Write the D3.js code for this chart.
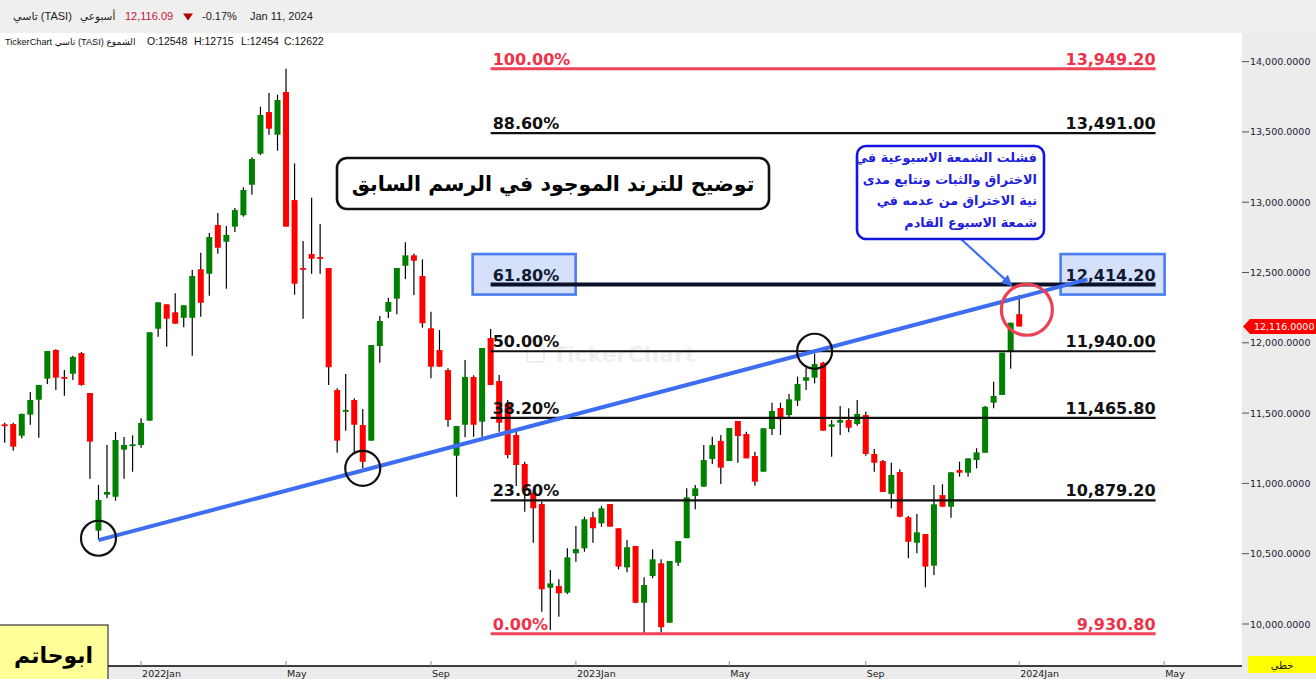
<!DOCTYPE html>
<html><head><meta charset="utf-8">
<script src="https://cdn.jsdelivr.net/npm/d3@7"></script>
<style>html,body{margin:0;padding:0;background:#fff;overflow:hidden}svg{display:block}</style>
</head><body><svg id="c" width="1316" height="679"></svg>
<script>
// ---------- DATA ----------
const dates = ["2021-09-12","2021-09-19","2021-09-26","2021-10-03","2021-10-10","2021-10-17","2021-10-24","2021-10-31","2021-11-07","2021-11-14",
"2021-11-21","2021-11-28","2021-12-05","2021-12-12","2021-12-19","2021-12-26","2022-01-02","2022-01-09","2022-01-16","2022-01-23",
"2022-01-30","2022-02-06","2022-02-13","2022-02-20","2022-02-27","2022-03-06","2022-03-13","2022-03-20","2022-03-27","2022-04-03",
"2022-04-10","2022-04-17","2022-04-24","2022-05-01","2022-05-08","2022-05-15","2022-05-22","2022-05-29","2022-06-05","2022-06-12",
"2022-06-19","2022-06-26","2022-07-03","2022-07-17","2022-07-24","2022-07-31","2022-08-07","2022-08-14","2022-08-21","2022-08-28",
"2022-09-04","2022-09-11","2022-09-18","2022-09-25","2022-10-02","2022-10-09","2022-10-16","2022-10-23","2022-10-30","2022-11-06",
"2022-11-13","2022-11-20","2022-11-27","2022-12-04","2022-12-11","2022-12-18","2022-12-25","2023-01-01","2023-01-08","2023-01-15",
"2023-01-22","2023-01-29","2023-02-05","2023-02-12","2023-02-19","2023-02-26","2023-03-05","2023-03-12","2023-03-19","2023-03-26",
"2023-04-02","2023-04-09","2023-04-16","2023-04-23","2023-04-30","2023-05-07","2023-05-14","2023-05-21","2023-05-28","2023-06-04",
"2023-06-11","2023-06-18","2023-07-02","2023-07-09","2023-07-16","2023-07-23","2023-07-30","2023-08-06","2023-08-13","2023-08-20",
"2023-08-27","2023-09-03","2023-09-10","2023-09-17","2023-09-24","2023-10-01","2023-10-08","2023-10-15","2023-10-22","2023-10-29",
"2023-11-05","2023-11-12","2023-11-19","2023-11-26","2023-12-03","2023-12-10","2023-12-17","2023-12-24","2023-12-31","2024-01-07"];

const openP = [11420,11422,11339,11489,11595,11745,11949,11757,11780,11927,
11643,10664,10920,10905,11240,11266,11273,11446,12100,12274,
12217,12178,12178,12523,12491,12838,12719,12826,12907,13124,
13345,13641,13480,13784,13015,12532,12631,12610,12532,11664,
11510,11593,11415,11304,11977,12221,12314,12548,12622,12475,
12103,11949,11806,11197,11417,11757,11439,12034,11728,11565,
11344,11138,10934,10853,10258,10270,10223,10503,10538,10759,
10716,10853,10681,10403,10555,10151,10341,10432,10009,10436,
10610,10910,10977,11174,11302,11159,11444,11351,11195,11083,
11387,11536,11486,11588,11730,11752,11858,11403,11432,11451,
11422,11486,11209,11159,10925,11081,10759,10578,10640,10415,
10917,10834,11095,11076,11166,11218,11574,11629,11937,12203];

const highP = [11432,11432,11498,11650,11700,11942,11955,11806,11908,11935,
11643,10989,11273,11366,11330,11342,11463,12075,12288,12274,
12352,12267,12518,12641,12781,12923,12831,12959,13106,13319,
13679,13777,13764,13949,13276,12724,13032,12845,12532,11676,
11778,11605,11529,11984,12190,12321,12532,12715,12636,12594,
12221,12091,11819,11408,11878,11769,11963,12098,11771,11593,
11380,11154,10953,10870,10384,10318,10538,10697,10763,10799,
10839,10853,10681,10597,10555,10332,10531,10460,10448,10590,
10965,10989,11273,11332,11344,11394,11444,11368,11225,11392,
11574,11574,11636,11759,11823,11925,11866,11451,11550,11534,
11593,11510,11245,11166,11147,11100,10768,10782,10640,10989,
10994,11079,11154,11178,11250,11550,11723,11930,12143,12340];

const lowP = [11289,11232,11321,11417,11325,11707,11664,11624,11735,11695,
11033,10597,10894,10877,11033,11083,11254,11446,12043,11972,
12136,12110,11908,12186,12335,12634,12385,12788,12897,13053,
13336,13480,13366,12826,12342,12171,12491,12491,11700,11218,
11375,11218,11107,11304,11858,12176,12203,12454,12340,12107,
11747,11830,11403,10905,11328,11332,11332,11700,11368,11178,
10981,10799,10578,10087,9957,10052,10213,10443,10514,10578,
10692,10692,10389,10368,10147,9931,10325,9938,10009,10413,
10610,10816,10977,11138,10996,11159,11147,11178,10984,11083,
11344,11344,11470,11550,11664,11712,11375,11190,11344,11363,
11410,11197,11083,10939,10823,10759,10467,10503,10261,10349,
10834,10756,11048,11048,11107,11218,11534,11629,11816,12116];

const closeP = [11410,11261,11494,11593,11700,11942,11752,11745,11899,11700,
11297,10882,10939,11309,11273,11278,11430,12075,12288,12171,
12136,12267,12475,12285,12752,12676,12767,12944,13087,13307,
13620,13523,13727,12826,12420,12520,12598,12598,11826,11304,
11522,11417,11154,11984,12155,12290,12532,12622,12584,12139,
11830,11830,11451,11408,11757,11417,11963,11700,11432,11202,
11131,10948,10823,10247,10289,10218,10474,10533,10745,10681,
10823,10692,10408,10546,10151,10277,10460,9977,10448,10590,
10901,10965,11166,11273,11112,11394,11337,11178,11012,11392,
11515,11456,11598,11707,11755,11849,11375,11420,11451,11396,
11494,11209,11147,10939,11060,10763,10585,10652,10408,10851,
10834,11079,11076,11178,11221,11545,11622,11930,12143,12116.09];

const xTickIndex = [16,33,50,67,85,101,119,136];
const xTickLabels = ["2022Jan","May","Sep","2023Jan","May","Sep","2024Jan","May"];
const yTicks = [10000,10500,11000,11500,12000,12500,13000,13500,14000];

const fibLabels = ["100.00%","88.60%","61.80%","50.00%","38.20%","23.60%","0.00%"];
const fibValues = [13949.2,13491.0,12414.2,11940.0,11465.8,10879.2,9930.8];
const fibFromIndex = 57, fibToIndex = 135;

const trendIndex = [11,127];
const trendValue = [10597,12451];
const circleIndex = [11,42,95];
const circleValue = [10610,11107,11940];
const alertIndex = 119.9, alertValue = 12235;
const arrowFrom = [112.1, 12742], arrowTo = [118.1, 12408];

const headerName = "تاسي (TASI)";
const headerPeriod = "أسبوعي";
const headerLast = "12,116.09";
const headerChange = "-0.17%";
const headerDate = "Jan 11, 2024";
const infoTitle = "TickerChart تاسي (TASI) الشموع";
const infoOHLC = ["O:12548","H:12715","L:12454","C:12622"];
const titleText = "توضيح للترند الموجود في الرسم السابق";
const noteLines = ["فشلت الشمعة الاسبوعية في","الاختراق والثبات ونتابع مدى","نية الاختراق من عدمه في","شمعة الاسبوع القادم"];
const authorText = "ابوحاتم";
const scaleTypeText = "خطي";

// ---------- DRAW ----------
const svg = d3.select("#c");
const W = 1316, H = 679;
const plotL = 0, plotR = 1242, plotT = 33, plotB = 666;
const x = d3.scaleLinear().domain([0,119]).range([4.7,1019.2]);
const y = d3.scaleLinear().domain([10000,14000]).range([624,61.6]);
const fmtY = d3.format(",.4f");
const fmtF = d3.format(",.2f");
const arFont = "'DejaVu Sans', sans-serif";
const mixFont = "'Liberation Sans', 'DejaVu Sans', Arial, sans-serif";

svg.append("rect").attr("width",W).attr("height",H).attr("fill","#fff");
svg.append("rect").attr("x",0).attr("y",0).attr("width",W).attr("height",plotT).attr("fill","#efefef");
svg.append("rect").attr("x",plotR).attr("y",plotT).attr("width",W-plotR).attr("height",H-plotT).attr("fill","#ececec");
svg.append("rect").attr("x",0).attr("y",plotB).attr("width",plotR).attr("height",H-plotB).attr("fill","#ececec");

const hdr = svg.append("g").attr("font-family",mixFont).attr("font-size",11).attr("fill","#222");
hdr.append("text").attr("x",13).attr("y",20).text(headerName);
hdr.append("text").attr("x",80).attr("y",20).attr("font-family",arFont).attr("font-size",10.5).text(headerPeriod);
hdr.append("text").attr("x",125).attr("y",20).attr("fill","#c8143c").text(headerLast);
hdr.append("path").attr("d","M183,13.5 L193,13.5 L188,20.5 Z").attr("fill","#b00000");
hdr.append("text").attr("x",202).attr("y",20).text(headerChange);
hdr.append("text").attr("x",250).attr("y",20).text(headerDate);

const info = svg.append("g").attr("font-family",mixFont).attr("font-size",10.5).attr("fill","#111");
info.append("text").attr("x",5).attr("y",45).attr("font-size",9.2).text(infoTitle);
const ohlcX = [147,194,241,284];
infoOHLC.forEach((t,i)=>info.append("text").attr("x",ohlcX[i]).attr("y",45).text(t));

svg.append("clipPath").attr("id","pc").append("rect").attr("x",plotL).attr("y",plotT).attr("width",plotR-plotL).attr("height",plotB-plotT);
const plot = svg.append("g").attr("clip-path","url(#pc)");

// watermark
const wm = plot.append("g").attr("opacity",0.55);
wm.append("rect").attr("x",527).attr("y",345).attr("width",17).attr("height",17).attr("rx",2).attr("fill","none").attr("stroke","#e2e2e2").attr("stroke-width",2);
wm.append("text").attr("x",552).attr("y",362).attr("font-family","'DejaVu Sans', sans-serif").attr("font-weight","bold").attr("font-size",22).attr("fill","#e4e4e4").text("TickerChart");

// candles
const cw = 6;
const cg = plot.append("g");
dates.forEach((d,i)=>{
  const cx = x(i);
  const up = closeP[i] > openP[i];
  const col = up ? "#008000" : "#ff0000";
  cg.append("line").attr("x1",cx).attr("x2",cx).attr("y1",y(highP[i])).attr("y2",y(lowP[i])).attr("stroke","#000").attr("stroke-width",1.2);
  const top = y(Math.max(openP[i],closeP[i])), bot = y(Math.min(openP[i],closeP[i]));
  cg.append("rect").attr("x",cx-cw/2).attr("y",top).attr("width",cw).attr("height",Math.max(bot-top,1.8)).attr("fill",col);
});

// fib levels
const fg = plot.append("g");
const fx0 = x(fibFromIndex), fx1 = x(fibToIndex);
fibLabels.forEach((lab,i)=>{
  const v = fibValues[i], yy = y(v);
  const isRed = (i===0 || i===fibLabels.length-1);
  const is618 = lab==="61.80%";
  const lineCol = isRed ? "#f04458" : (is618 ? "#0b1228" : "#111");
  const lw = isRed ? 3 : (is618 ? 4 : 2.2);
  const txtCol = isRed ? "#ee3349" : (is618 ? "#101a33" : "#111");
  if (is618) {
    fg.append("rect").attr("x",fx0-18).attr("y",yy-30.5).attr("width",103).attr("height",40.5)
      .attr("fill","#d5e0fa").attr("stroke","#4a7cf2").attr("stroke-width",2.6);
    fg.append("rect").attr("x",fx1-95).attr("y",yy-30.5).attr("width",104).attr("height",40.5)
      .attr("fill","#d5e0fa").attr("stroke","#4a7cf2").attr("stroke-width",2.6);
  }
  fg.append("line").attr("x1",fx0).attr("x2",fx1).attr("y1",yy).attr("y2",yy).attr("stroke",lineCol).attr("stroke-width",lw);
  fg.append("text").attr("x",fx0+2).attr("y",yy-4).attr("font-family","'DejaVu Sans', sans-serif").attr("font-weight","bold")
    .attr("font-size",16).attr("fill",txtCol).text(lab);
  fg.append("text").attr("x",fx1).attr("y",yy-4).attr("text-anchor","end").attr("font-family","'DejaVu Sans', sans-serif").attr("font-weight","bold")
    .attr("font-size",16).attr("fill",txtCol).text(fmtF(v));
});

// trend line
plot.append("line").attr("x1",x(trendIndex[0])).attr("y1",y(trendValue[0])).attr("x2",x(trendIndex[1])).attr("y2",y(trendValue[1]))
  .attr("stroke","#3d6ef2").attr("stroke-width",4).attr("stroke-linecap","butt");

// circles
circleIndex.forEach((ci,k)=>{
  plot.append("circle").attr("cx",x(ci)).attr("cy",y(circleValue[k])).attr("r",17.5).attr("fill","none").attr("stroke","#111").attr("stroke-width",2.2);
});
plot.append("circle").attr("cx",x(alertIndex)).attr("cy",y(alertValue)).attr("r",25.5).attr("fill","none").attr("stroke","#ec4055").attr("stroke-width",3.2);

// arrow
svg.append("defs").append("marker").attr("id","ah").attr("viewBox","0 0 10 10").attr("refX",9).attr("refY",5)
  .attr("markerWidth",5).attr("markerHeight",5).attr("orient","auto").attr("markerUnits","strokeWidth")
  .append("path").attr("d","M0,0 L10,5 L0,10 Z").attr("fill","#3d6ef2");
plot.append("line").attr("x1",x(arrowFrom[0])).attr("y1",y(arrowFrom[1])).attr("x2",x(arrowTo[0])).attr("y2",y(arrowTo[1]))
  .attr("stroke","#3d6ef2").attr("stroke-width",2.2).attr("marker-end","url(#ah)");

// title box
plot.append("rect").attr("x",337).attr("y",158).attr("width",432).attr("height",51).attr("rx",10).attr("fill","#fff").attr("stroke","#111").attr("stroke-width",2.6);
plot.append("text").attr("x",553).attr("y",191).attr("text-anchor","middle").attr("font-family",arFont).attr("font-weight","bold")
  .attr("font-size",20.5).attr("fill","#000").attr("direction","rtl").text(titleText);

// note box
plot.append("rect").attr("x",857).attr("y",146).attr("width",187).attr("height",93).attr("rx",9).attr("fill","#fff").attr("stroke","#1414e0").attr("stroke-width",2.6);
noteLines.forEach((t,i)=>{
  plot.append("text").attr("x",1037).attr("y",162+i*21.7).attr("text-anchor","start").attr("direction","rtl")
    .attr("font-family",arFont).attr("font-weight","bold").attr("font-size",12.8).attr("fill","#2020dc").text(t);
});

// y axis
const ya = svg.append("g");
yTicks.forEach(v=>{
  const yy = y(v);
  ya.append("line").attr("x1",plotR).attr("x2",plotR+7).attr("y1",yy).attr("y2",yy).attr("stroke","#555").attr("stroke-width",1);
  ya.append("text").attr("x",plotR+8).attr("y",yy+3.5).attr("font-family","'DejaVu Sans', sans-serif").attr("font-size",9.5).attr("fill","#1a1a33").text(fmtY(v));
});
const ly = y(closeP[closeP.length-1]);
ya.append("path").attr("d",`M${plotR+1},${ly} L${plotR+8},${ly-7.5} L${W},${ly-7.5} L${W},${ly+7.5} L${plotR+8},${ly+7.5} Z`).attr("fill","#ff0000");
ya.append("text").attr("x",plotR+12).attr("y",ly+3.5).attr("font-family","'DejaVu Sans', sans-serif").attr("font-size",9.5).attr("fill","#fff").text(fmtY(Math.round(closeP[closeP.length-1])));

// x axis
const xa = svg.append("g");
xa.append("line").attr("x1",0).attr("x2",plotR).attr("y1",plotB).attr("y2",plotB).attr("stroke","#000").attr("stroke-width",1.3);
xTickIndex.forEach((ti,k)=>{
  const xx = x(ti);
  xa.append("line").attr("x1",xx).attr("x2",xx).attr("y1",plotB-5).attr("y2",plotB).attr("stroke","#888");
  xa.append("text").attr("x",xx+1).attr("y",plotB+11).attr("font-family","'DejaVu Sans', sans-serif").attr("font-size",9.5).attr("fill","#222").text(xTickLabels[k]);
});

svg.append("rect").attr("x",1248).attr("y",656).attr("width",68).attr("height",17).attr("fill","#ffff00");
svg.append("text").attr("x",1282).attr("y",668.5).attr("text-anchor","middle").attr("font-family",arFont).attr("font-size",10).attr("fill","#111").text(scaleTypeText);

svg.append("rect").attr("x",-1).attr("y",625).attr("width",109).attr("height",56).attr("fill","#ffff99").attr("stroke","#111").attr("stroke-width",1);
svg.append("text").attr("x",53.5).attr("y",663).attr("text-anchor","middle").attr("font-family",arFont).attr("font-weight","bold").attr("font-size",22).attr("fill","#000").text(authorText);
</script></body></html>
